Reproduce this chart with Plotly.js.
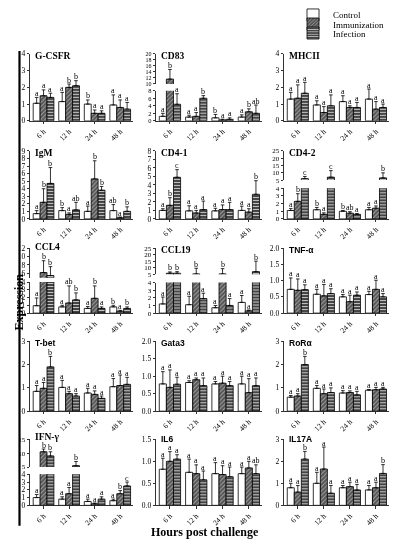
<!DOCTYPE html>
<html><head><meta charset="utf-8">
<script src="https://cdn.plot.ly/plotly-3.0.1.min.js"></script>
<style>html,body{margin:0;padding:0;background:#fff}#chart{width:395px;height:550px}
.main-svg{will-change:transform}</style>
</head><body><div id="chart"></div>
<script>
// ---------- data (means, upper SD, significance letters) ----------
const timepoints = ['6 h','12 h','24 h','48 h'];
const groups = ['Control','Immunization','Infection'];

// rows: Control, Immunization, Infection ; columns: 6h,12h,24h,48h
const gcsfrMean = [[1.05,1.15,1.0,0.95],[1.5,2.0,0.45,0.8],[1.4,2.1,0.45,0.7]];
const gcsfrErr  = [[0.35,0.55,0.25,0.6],[0.35,0.2,0.2,0.45],[0.25,0.3,0.15,0.4]];
const gcsfrSig  = [['a','a','b','a'],['a','b','a','a'],['a','b','a','a']];

const cd83Mean = [[1.2,1.0,0.8,1.0],[11.6,1.2,0.25,2.4],[4.4,6.0,0.4,2.0]];
const cd83Err  = [[0.8,0.5,0.9,0.6],[3.2,1.0,0.2,0.8],[2.8,0.7,0.4,2.2]];
const cd83Sig  = [['a','a','b','a'],['b','a','a','b'],['a','b','a','ab']];

const mhcMean = [[1.3,0.95,1.15,1.3],[1.35,0.5,0.8,0.7],[1.65,0.9,0.8,0.8]];
const mhcErr  = [[0.4,0.25,0.35,0.6],[0.8,0.35,0.1,0.45],[0.65,0.65,0.3,0.2]];
const mhcSig  = [['a','a','a','a'],['a','a','a','a'],['a','a','a','a']];

const igmMean = [[0.7,1.1,1.0,1.1],[2.2,0.6,5.3,0.15],[4.7,1.2,3.8,1.0]];
const igmErr  = [[0.4,0.4,0.7,0.8],[1.8,0.2,2.4,0.1],[2.1,1.0,0.5,0.6]];
const igmSig  = [['a','b','a','ab'],['b','a','b','a'],['b','ab','b','b']];

const cd41Mean = [[1.0,0.95,0.95,1.0],[1.6,0.7,1.1,0.8],[4.9,1.1,1.1,2.9]];
const cd41Err  = [[0.2,0.6,0.3,0.5],[0.9,0.3,0.55,0.4],[0.9,1.0,0.85,1.6]];
const cd41Sig  = [['a','a','a','a'],['b','a','a','a'],['c','a','a','b']];

const cd42Mean = [[1.1,1.2,1.0,1.2],[2.3,0.6,0.75,1.4],[6.0,7.0,0.6,6.5]];
const cd42Err  = [[0.25,0.3,0.1,0.3],[1.0,0.2,0.2,0.3],[1.5,4.5,0.1,3.5]];
const cd42Sig  = [['a','b','b','a'],['b','a','ab','a'],['c','c','a','b']];

const ccl4Mean = [[0.95,0.8,0.6,0.8],[6.2,1.3,1.9,0.25],[5.5,1.7,0.6,0.6]];
const ccl4Err  = [[1.0,0.2,0.25,0.2],[2.8,2.2,1.6,0.1],[2.1,0.9,0.2,0.2]];
const ccl4Sig  = [['a','a','a','b'],['b','ab','b','a'],['b','b','a','b']];

const ccl19Mean = [[1.2,1.1,0.7,1.4],[5.8,5.3,5.3,0.3],[5.8,1.9,1.0,7.0]];
const ccl19Err  = [[0.9,1.1,0.3,0.9],[1.0,4.3,4.0,0.1],[1.2,0.7,0.9,8.0]];
const ccl19Sig  = [['a','a','a','a'],['b','b','b','a'],['b','a','a','b']];

const tnfMean = [[0.73,0.58,0.5,0.57],[0.7,0.53,0.35,0.73],[0.72,0.6,0.55,0.5]];
const tnfErr  = [[0.35,0.15,0.07,0.1],[0.35,0.35,0.2,0.28],[0.15,0.15,0.1,0.1]];
const tnfSig  = [['a','a','a','a'],['a','a','a','a'],['a','a','a','a']];

const tbetMean = [[0.85,1.02,0.78,1.05],[0.98,0.75,0.72,1.1],[1.9,0.65,0.55,1.15]];
const tbetErr  = [[0.25,0.3,0.2,0.35],[0.25,0.1,0.15,0.45],[0.45,0.1,0.1,0.3]];
const tbetSig  = [['a','a','a','a'],['a','a','a','a'],['b','a','a','a']];

const gata3Mean = [[0.78,0.82,0.78,0.78],[0.68,0.9,0.8,0.53],[0.77,0.73,0.73,0.73]];
const gata3Err  = [[0.35,0.05,0.07,0.22],[0.5,0.05,0.2,0.4],[0.2,0.22,0.12,0.22]];
const gata3Sig  = [['a','a','a','a'],['a','a','a','a'],['a','a','a','a']];

const rorMean = [[0.6,0.98,0.78,0.9],[0.65,0.75,0.8,0.92],[2.0,0.8,0.7,0.95]];
const rorErr  = [[0.07,0.12,0.1,0.03],[0.1,0.2,0.07,0.1],[0.35,0.2,0.15,0.07]];
const rorSig  = [['a','a','a','a'],['a','a','a','a'],['b','a','a','a']];

const ifngMean = [[1.0,0.8,0.5,0.6],[10.5,1.5,0.2,1.5],[9.0,5.5,0.8,2.5]];
const ifngErr  = [[0.4,0.3,0.3,0.2],[1.0,0.8,0.1,0.4],[1.5,1.5,0.3,0.5]];
const ifngSig  = [['a','a','a','a'],['b','a','a','b'],['b','b','a','c']];

const il6Mean = [[0.82,0.75,0.72,0.72],[1.0,0.72,0.7,0.85],[1.05,0.58,0.65,0.72]];
const il6Err  = [[0.25,0.3,0.25,0.15],[0.22,0.2,0.2,0.15],[0.1,0.2,0.22,0.2]];
const il6Sig  = [['a','a','a','a'],['a','a','a','a'],['a','a','a','ab']];

const il17Mean = [[0.8,1.0,0.8,0.7],[0.6,1.65,0.85,0.8],[2.1,0.55,0.7,1.45]];
const il17Err  = [[0.2,0.5,0.1,0.2],[0.3,1.0,0.2,0.25],[0.35,0.35,0.25,0.4]];
const il17Sig  = [['a','a','a','a'],['a','a','a','a'],['b','a','a','b']];

// ---------- layout config ----------
const W = 395, H = 550;
const SERIF = 'Liberation Serif, Times New Roman, serif';
const SANS = 'Liberation Sans, Arial, sans-serif';
const cols = [[30,133],[156,262],[284,389]];
const rows = [[39,108],[139,209],[239,306],[335,407],[436,504]];

const panels = [
 {name:'G-CSFR', m:gcsfrMean, e:gcsfrErr, s:gcsfrSig, r:0, c:0, f:SERIF, lo:{range:[0,4], dtick:1}},
 {name:'CD83', m:cd83Mean, e:cd83Err, s:cd83Sig, r:0, c:1, f:SERIF, lo:{range:[0,8], dtick:2, fs:6.5}, hi:{range:[10,20], dtick:2, fs:6}, frac:0.45, gap:7},
 {name:'MHCII', m:mhcMean, e:mhcErr, s:mhcSig, r:0, c:2, f:SERIF, lo:{range:[0,4], dtick:1}},
 {name:'IgM', m:igmMean, e:igmErr, s:igmSig, r:1, c:0, f:SERIF, lo:{range:[0,9], dtick:1}},
 {name:'CD4-1', m:cd41Mean, e:cd41Err, s:cd41Sig, r:1, c:1, f:SERIF, lo:{range:[0,8], dtick:1}},
 {name:'CD4-2', m:cd42Mean, e:cd42Err, s:cd42Sig, r:1, c:2, f:SERIF, lo:{range:[0,4], dtick:1, fs:7}, hi:{range:[5,25], dtick:5, fs:7}, frac:0.45, gap:8.5},
 {name:'CCL4', m:ccl4Mean, e:ccl4Err, s:ccl4Sig, r:2, c:0, f:SERIF, lo:{range:[0,4], dtick:1}, hi:{range:[5,12], tickvals:[6,8,10,12]}, frac:0.478, gap:4.5, ty:7},
 {name:'CCL19', m:ccl19Mean, e:ccl19Err, s:ccl19Sig, r:2, c:1, f:SERIF, lo:{range:[0,4], dtick:1, fs:7}, hi:{range:[5,25], dtick:5, fs:7}, frac:0.47, gap:8.5},
 {name:'TNF-α', m:tnfMean, e:tnfErr, s:tnfSig, r:2, c:2, f:SANS, lo:{range:[0,2], dtick:0.5, fmt:'.1f'}},
 {name:'T-bet', m:tbetMean, e:tbetErr, s:tbetSig, r:3, c:0, f:SANS, lo:{range:[0,3], dtick:1}},
 {name:'Gata3', m:gata3Mean, e:gata3Err, s:gata3Sig, r:3, c:1, f:SANS, lo:{range:[0,2], dtick:0.5, fmt:'.1f'}},
 {name:'RoRα', m:rorMean, e:rorErr, s:rorSig, r:3, c:2, f:SANS, lo:{range:[0,3], dtick:1}},
 {name:'IFN-γ', m:ifngMean, e:ifngErr, s:ifngSig, r:4, c:0, f:SERIF, lo:{range:[0,4], dtick:1}, hi:{range:[5,15], dtick:5, fs:7}, frac:0.47, gap:7.5, ty:9},
 {name:'IL6', m:il6Mean, e:il6Err, s:il6Sig, r:4, c:1, f:SANS, lo:{range:[0,1.5], dtick:0.5, fmt:'.1f'}, ty:6},
 {name:'IL17A', m:il17Mean, e:il17Err, s:il17Sig, r:4, c:2, f:SANS, lo:{range:[0,3], dtick:1}, ty:6}
];

const BW = 0.27;
const styles = [
 {color:'#ffffff', line:{color:'#000', width:0.8}},
 {color:'#5a5a5a', line:{color:'#000', width:0.8}, pattern:{shape:'/', fgcolor:'#a8a8a8', bgcolor:'#555555', size:3, solidity:0.3}},
 {color:'#4a4a4a', line:{color:'#000', width:0.8}, pattern:{shape:'-', fgcolor:'#c4c4c4', bgcolor:'#444444', size:3, solidity:0.35}}
];
const legendIds = ['legend','legend2','legend3'];

const px = x => x / W;
const py = y => 1 - y / H;

const data = [];
const layout = {
  width: W, height: H, autosize:false,
  margin:{l:0,r:0,t:0,b:0},
  paper_bgcolor:'#fff', plot_bgcolor:'#fff',
  barmode:'overlay',
  font:{family:SERIF, size:8, color:'#000'},
  annotations:[], shapes:[]
};

let axN = 0;
function addAxes(dom, rangeSpec, xVisible){
  axN++;
  const n = axN === 1 ? '' : axN;
  layout['xaxis'+n] = {
    domain: dom.x, anchor:'y'+n, range:[-0.53,3.5],
    tickvals:[0,1,2,3], ticktext:timepoints, tickangle:-45,
    ticks:'outside', ticklen:2.5, tickwidth:0.8, tickcolor:'#000',
    showline:true, linecolor:'#000', linewidth:0.8,
    showgrid:false, zeroline:false, fixedrange:true,
    tickfont:{family:SERIF, size:7.5, color:'#000'}, visible: xVisible
  };
  const ya = {
    domain: dom.y, anchor:'x'+n, range: rangeSpec.range,
    ticks:'outside', ticklen:2.5, tickwidth:0.8, tickcolor:'#000',
    showline:true, linecolor:'#000', linewidth:0.8,
    showgrid:false, zeroline:false, fixedrange:true,
    tickfont:{family:SERIF, size:rangeSpec.fs || 7.5, color:'#000'}
  };
  if (rangeSpec.tickvals) { ya.tickmode='array'; ya.tickvals=rangeSpec.tickvals; }
  else { ya.tickmode='linear'; ya.tick0=0; ya.dtick=rangeSpec.dtick; }
  if (rangeSpec.fmt) ya.tickformat = rangeSpec.fmt;
  layout['yaxis'+n] = ya;
  return {x:'x'+n, y:'y'+n};
}

function addTraces(p, ax, which, isFirst){
  for (let k=0;k<3;k++){
    const xs = timepoints.map((t,i)=> i + (k-1)*BW);
    const st = styles[k];
    const tr = {
      type:'bar', x:xs, y:p.m[k], width:BW, xaxis:ax.x, yaxis:ax.y,
      name: groups[k],
      marker:{color:st.color, line:st.line, pattern:st.pattern},
      error_y:{type:'data', array:p.e[k], arrayminus:p.e[k].map(()=>0), symmetric:false,
               color:'#000', thickness:0.8, width:1.8},
      hoverinfo:'skip', showlegend:false
    };
    if (isFirst && which==='lo'){ tr.showlegend = true; tr.legend = legendIds[k]; }
    data.push(tr);
    // significance letters, placed at the top of each error bar
    p.m[k].forEach((v,i)=>{
      const top = v + p.e[k][i];
      const inHi = p.hi && top > p.lo.range[1];
      if ((which==='hi') === !!inHi){
        layout.annotations.push({
          xref:ax.x, yref:ax.y, x:xs[i], y:top, xanchor:'center', yanchor:'bottom',
          text:p.s[k][i], showarrow:false, yshift:-1.5, borderpad:0,
          font:{family:SERIF, size:8, color:'#000000'}
        });
      }
    });
  }
}

panels.forEach((p, idx)=>{
  const [x0,x1] = cols[p.c];
  const [t,b] = rows[p.r];
  const xd = [px(x0), px(x1)];
  if (!p.hi){
    const ax = addAxes({x:xd, y:[py(b), py(t)]}, p.lo, true);
    addTraces(p, ax, 'lo', idx===0);
  } else {
    const h = b - t;
    const loTop = b - p.frac*h;
    const axLo = addAxes({x:xd, y:[py(b), py(loTop)]}, p.lo, true);
    addTraces(p, axLo, 'lo', idx===0);
    const axHi = addAxes({x:xd, y:[py(loTop-p.gap), py(t)]}, p.hi, false);
    addTraces(p, axHi, 'hi', false);
  }
  layout.annotations.push({
    xref:'paper', yref:'paper', x:px(x0+4), y:py(t-(p.ty || 4)), xanchor:'left', yanchor:'top',
    text:'<b>'+p.name+'</b>', showarrow:false, borderpad:0,
    font:{family:p.f, size:p.f===SANS?8.5:9.5, color:'#000'}
  });
});

// legends (one per group so spacing can match the figure)
legendIds.forEach((id,k)=>{
  layout[id] = {x:px(293), y:py(-16 + k*9.3), xanchor:'left', yanchor:'top',
    bgcolor:'rgba(0,0,0,0)', font:{family:SERIF, size:9, color:'#000'}, itemwidth:30, tracegroupgap:0};
});

layout.annotations.push({xref:'paper', yref:'paper', x:px(10), y:py(295), text:'<b>Expression</b>',
  textangle:-90, showarrow:false, font:{family:SERIF, size:12, color:'#000'}});
layout.annotations.push({xref:'paper', yref:'paper', x:px(205), y:py(541), text:'<b>Hours post challenge</b>',
  showarrow:false, font:{family:SERIF, size:12, color:'#000'}});
layout.shapes.push({type:'line', xref:'paper', yref:'paper', x0:px(19.5), x1:px(19.5), y0:py(36), y1:py(525),
  line:{color:'#000', width:2.2}});

Plotly.newPlot('chart', data, layout, {staticPlot:true, displayModeBar:false});
</script></body></html>
